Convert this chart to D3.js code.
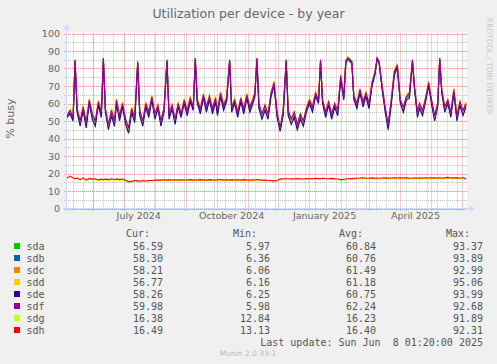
<!DOCTYPE html>
<html>
<head>
<meta charset="utf-8">
<script src="https://cdn.jsdelivr.net/npm/d3@7"></script>
<style>
  body { margin: 0; background: #f0f0f0; }
  svg text { font-family: "DejaVu Sans", sans-serif; fill: #666; }
  svg text.mono { font-family: "DejaVu Sans Mono", monospace; font-size: 10px; fill: #555; }
</style>
</head>
<body>
<div id="chart"></div>
<script>
// days since 2024-05-05 (one sample every ~3 days)
var days = [1,4,7,9,11,14,17,20,23,26,
  29,32,35,37,39,42,45,48,50,53,
  56,59,62,65,68,71,73,76,79,82,
  85,88,91,94,97,100,102,105,108,111,
  114,117,120,123,126,128,130,133,136,139,
  142,145,148,150,153,156,159,162,164,167,
  170,173,176,179,182,185,187,189,191,194,
  197,200,203,206,209,212,215,218,220,223,
  226,229,232,235,238,241,244,247,250,252,
  254,257,260,263,266,269,272,275,277,279,
  281,283,285,288,291,294,297,300,303,306,
  308,310,313,316,319,322,325,328,331,334,
  337,340,343,345,348,350,353,356,359,362,
  365,368,370,372,375,378,381,384,387,390,
  393,396];

var sda = [52,55,51,84,56,48,57,47,61,53,
  48,60,54,85,56,46,55,48,61,52,
  59,49,44,56,50,83,55,48,59,53,
  63,52,58,48,56,84,53,58,49,59,
  53,61,55,62,57,85,61,55,64,56,
  63,56,62,54,65,57,62,84,56,61,
  53,62,55,64,56,61,65,85,58,52,
  57,52,65,71,53,45,55,84,54,49,
  53,46,52,48,56,61,56,65,61,84,
  61,53,60,52,59,54,75,63,83,85,
  84,83,63,58,67,59,65,58,71,77,
  85,83,69,56,46,60,77,80,61,56,
  63,64,84,69,53,58,54,62,71,60,
  51,59,85,67,56,61,53,67,51,60,
  54,59];
var sdb = [53,55,51,84,56,49,57,48,61,53,
  49,60,54,85,56,47,55,49,61,52,
  59,50,45,56,51,83,55,49,59,54,
  63,53,58,49,56,84,53,58,50,59,
  53,61,55,62,57,85,61,56,64,57,
  63,56,62,55,65,58,62,84,57,61,
  54,62,56,64,57,61,65,85,59,53,
  58,53,65,71,54,45,55,84,55,50,
  54,47,53,49,56,61,57,65,61,84,
  61,54,60,53,59,55,75,63,83,86,
  84,83,63,59,67,60,65,59,71,77,
  85,83,69,57,47,61,77,81,61,57,
  63,65,84,69,54,59,55,62,71,61,
  52,59,85,67,57,61,54,67,52,60,
  55,59];
var sdc = [54,56,52,85,57,50,59,49,62,55,
  50,61,56,86,57,48,57,50,62,54,
  60,51,46,58,52,84,56,50,61,55,
  64,54,59,50,58,85,54,60,51,60,
  55,62,56,63,58,86,62,57,65,58,
  64,57,64,56,66,59,64,85,58,62,
  55,63,57,65,58,63,66,86,60,54,
  59,54,66,72,55,46,57,85,56,51,
  55,48,54,50,57,62,58,66,62,85,
  62,55,61,54,60,56,76,64,84,86,
  85,84,64,60,68,61,66,60,72,78,
  86,84,70,58,48,62,78,82,62,58,
  64,66,85,70,55,60,56,63,72,62,
  53,60,86,68,58,62,55,68,53,61,
  56,60];
var sdd = [54,57,53,85,58,49,59,48,63,55,
  49,62,56,86,58,47,57,49,63,54,
  61,50,45,58,51,84,57,49,61,56,
  65,53,60,49,58,85,55,60,50,61,
  55,63,57,64,59,86,63,58,66,59,
  65,58,64,57,67,60,64,85,59,63,
  56,64,58,66,59,63,67,86,61,53,
  60,53,67,73,54,45,57,85,57,50,
  56,47,55,49,58,63,59,67,63,85,
  63,54,62,53,61,55,77,65,85,87,
  86,84,65,61,69,62,67,61,73,79,
  86,84,71,57,47,63,79,83,63,57,
  65,67,85,71,54,61,55,64,73,61,
  52,61,86,69,57,63,54,69,52,62,
  55,61];
var sde = [52,54,50,84,55,47,56,46,60,51,
  47,59,52,85,55,45,53,47,60,50,
  58,48,43,55,49,83,53,47,58,52,
  62,51,57,47,55,84,51,57,48,58,
  52,60,53,61,56,85,60,54,63,55,
  62,54,61,53,64,56,61,84,55,60,
  52,61,54,63,55,60,64,85,57,51,
  56,51,64,70,52,44,53,84,53,48,
  52,45,51,47,55,60,55,64,60,84,
  60,52,59,51,58,53,74,62,83,86,
  85,83,62,57,66,58,64,57,70,77,
  86,83,68,55,45,59,76,81,60,55,
  62,63,84,68,52,57,53,61,70,59,
  50,58,85,66,55,60,52,66,50,59,
  53,58];
var sdf = [53,56,52,85,57,50,58,49,62,54,
  50,61,55,86,57,48,56,50,62,53,
  60,51,46,57,52,84,56,50,60,55,
  64,54,59,50,57,85,54,59,51,60,
  54,62,56,63,58,86,62,57,65,58,
  64,57,63,56,66,59,63,85,58,62,
  55,63,57,65,58,62,66,86,60,54,
  59,54,66,72,55,46,56,85,56,51,
  55,48,54,50,57,62,58,66,62,85,
  62,55,61,54,60,56,76,64,84,86,
  85,84,64,60,68,61,66,60,72,78,
  86,84,70,58,48,62,78,82,62,58,
  64,66,85,70,55,60,56,63,72,62,
  53,60,86,68,58,62,55,68,53,61,
  56,60];
var sdg = [17.2,18.2,17.2,16.7,17.2,16.2,17.2,15.9,16.9,16.5,
  16.6,15.9,16.4,16.1,16.4,16.1,16.6,16.2,16.5,16.1,
  16.4,15.8,14.9,15.2,15.7,15.5,15.3,15.6,15.4,15.7,
  15.7,15.9,16.0,15.9,16.1,15.9,16.2,16.0,16.1,15.9,
  16.1,16.0,16.0,16.2,15.9,16.1,16.0,16.2,16.0,15.9,
  16.2,16.0,15.9,16.1,16.3,15.9,16.1,16.0,16.2,16.0,
  16.1,15.9,16.2,16.0,15.9,16.1,16.0,16.2,16.1,15.9,
  16.0,15.8,15.7,15.5,15.7,16.5,16.7,16.7,16.7,16.6,
  16.7,16.8,16.7,16.6,16.8,16.7,16.7,16.9,16.8,16.7,
  17.0,16.8,16.7,16.9,16.7,16.6,16.2,16.3,16.7,16.7,
  16.8,16.7,16.9,17.0,17.1,17.3,17.1,17.0,17.2,17.0,
  17.1,17.0,17.1,17.2,17.0,17.1,17.2,17.1,17.2,17.1,
  17.2,17.0,17.1,17.3,17.0,17.2,17.1,17.3,17.1,17.2,
  17.2,17.1,17.3,17.1,17.2,17.5,17.1,17.2,17.3,17.0,
  17.4,16.5];
var sdh = [17.5,18.5,17.5,17,17.5,16.5,17.5,16.2,17.2,16.8,
  17,16.3,16.8,16.5,16.8,16.5,17,16.6,16.9,16.5,
  16.8,16.2,15.2,15.5,16,15.8,15.6,16,15.7,16,
  16,16.2,16.3,16.2,16.4,16.2,16.5,16.3,16.4,16.2,
  16.4,16.3,16.3,16.5,16.2,16.4,16.3,16.5,16.3,16.2,
  16.5,16.3,16.2,16.4,16.6,16.2,16.4,16.3,16.5,16.3,
  16.4,16.2,16.5,16.3,16.2,16.4,16.3,16.5,16.4,16.2,
  16.3,16.1,16,15.8,16,16.8,17,17,17,16.9,
  17,17.1,17,16.9,17.1,17,17,17.2,17.1,17,
  17.3,17.1,17,17.2,17,16.9,16.5,16.6,17,17,
  17.1,17,17.2,17.3,17.4,17.6,17.4,17.3,17.5,17.3,
  17.4,17.3,17.4,17.5,17.3,17.4,17.5,17.4,17.5,17.4,
  17.5,17.3,17.4,17.6,17.3,17.5,17.4,17.6,17.4,17.5,
  17.5,17.4,17.6,17.4,17.5,17.8,17.4,17.5,17.6,17.3,
  17.7,16.8];

var names = ['sda','sdb','sdc','sdd','sde','sdf','sdg','sdh'];
var colors = ['#00cc00','#0066b3','#ff8000','#ffcc00','#330099','#990099','#ccff00','#ff0000'];
var values = [sda, sdb, sdc, sdd, sde, sdf, sdg, sdh];
var curVals = ['56.59','58.30','58.21','56.77','58.26','59.98','16.38','16.49'];
var minVals = ['5.97','6.36','6.06','6.16','6.25','5.98','12.84','13.13'];
var avgVals = ['60.84','60.76','61.49','61.18','60.75','62.24','16.23','16.40'];
var maxVals = ['93.37','93.89','92.99','95.06','93.99','92.68','91.89','92.31'];
var yTicks = [0,10,20,30,40,50,60,70,80,90,100];
var xLabels = ['July 2024','October 2024','January 2025','April 2025'];

var W = 497, H = 364;
var xLeft = 66, xRight = 467, yTop = 33.5, yBottom = 208.5;
var start = new Date(Date.UTC(2024, 4, 5)),
    end = new Date(Date.UTC(2025, 5, 6));

var x = d3.scaleUtc().domain([start, end]).range([xLeft, xRight]);
var y = d3.scaleLinear().domain([0, 100]).range([yBottom, yTop]);

var svg = d3.select('#chart').append('svg')
    .attr('width', W).attr('height', H);

svg.append('rect').attr('width', W).attr('height', H).attr('fill', '#f0f0f0');
svg.append('rect')
    .attr('x', xLeft).attr('y', yTop - 1)
    .attr('width', xRight - xLeft).attr('height', yBottom - yTop + 1)
    .attr('fill', '#fff');

function px(v) { return Math.round(v) + 0.5; }

var grid = svg.append('g');
var minorColor = 'rgba(170,170,170,0.7)',
    majorColor = 'rgba(235,110,110,0.7)';

// minor horizontal lines every 5
d3.range(5, 100, 10).forEach(function(v) {
  grid.append('line')
      .attr('x1', xLeft - 2).attr('x2', xRight)
      .attr('y1', px(y(v))).attr('y2', px(y(v)))
      .attr('stroke', minorColor)
      .attr('stroke-dasharray', '1,1');
});

// minor vertical lines, every ten days
d3.utcDay.range(new Date(Date.UTC(2024, 4, 12)), end, 10).forEach(function(d) {
  grid.append('line')
      .attr('x1', px(x(d))).attr('x2', px(x(d)))
      .attr('y1', yTop).attr('y2', yBottom + 2)
      .attr('stroke', minorColor)
      .attr('stroke-dasharray', '1,1');
});

// major horizontal lines every 10
yTicks.forEach(function(v) {
  grid.append('line')
      .attr('x1', xLeft - 2).attr('x2', xRight)
      .attr('y1', px(y(v))).attr('y2', px(y(v)))
      .attr('stroke', majorColor)
      .attr('stroke-dasharray', '1,1');
});

// major vertical lines (months)
d3.utcMonth.range(start, end).forEach(function(d) {
  grid.append('line')
      .attr('x1', px(x(d))).attr('x2', px(x(d)))
      .attr('y1', yTop).attr('y2', yBottom + 2)
      .attr('stroke', majorColor)
      .attr('stroke-dasharray', '1,1');
});

// y tick labels
svg.append('g').selectAll('text')
    .data(yTicks)
  .enter().append('text')
    .attr('x', 60)
    .attr('y', function(d) { return y(d) + 3.5; })
    .attr('text-anchor', 'end')
    .style('font-size', '9.5px')
    .text(function(d) { return d; });

// x labels, centred mid-month like rrdtool
svg.append('g').selectAll('text')
    .data(xLabels)
  .enter().append('text')
    .attr('x', function(d) {
      var t = d3.utcParse('%B %Y')(d);
      return x(d3.utcDay.offset(t, 15));
    })
    .attr('y', 219)
    .attr('text-anchor', 'middle')
    .style('font-size', '9.5px')
    .text(function(d) { return d; });

// series
var line = d3.line()
    .x(function(d, i) { return x(d3.utcDay.offset(start, days[i])); })
    .y(function(d) { return y(d); });

values.forEach(function(vals, k) {
  svg.append('path')
      .attr('d', line(vals))
      .attr('fill', 'none')
      .attr('stroke', colors[k])
      .attr('stroke-width', 1.1);
});

// axes
var axisColor = '#cfd6f8';
svg.append('line')
    .attr('x1', xLeft - 3).attr('x2', xRight + 4)
    .attr('y1', yBottom).attr('y2', yBottom)
    .attr('stroke', axisColor);
svg.append('line')
    .attr('x1', xLeft + 0.5).attr('x2', xLeft + 0.5)
    .attr('y1', yBottom + 3).attr('y2', yTop - 5)
    .attr('stroke', axisColor);
svg.append('path')
    .attr('d', 'M' + (xLeft - 2.5) + ',' + (yTop - 4) + 'L' + (xLeft + 3.5) + ',' + (yTop - 4) + 'L' + (xLeft + 0.5) + ',' + (yTop - 9) + 'Z')
    .attr('fill', axisColor);
svg.append('path')
    .attr('d', 'M' + (xRight + 3) + ',' + (yBottom - 3) + 'L' + (xRight + 3) + ',' + (yBottom + 3) + 'L' + (xRight + 8) + ',' + yBottom + 'Z')
    .attr('fill', axisColor);

// title and side texts
svg.append('text')
    .attr('x', 248.5).attr('y', 18)
    .attr('text-anchor', 'middle')
    .style('font-size', '12.5px')
    .text('Utilization per device - by year');

svg.append('text')
    .attr('transform', 'translate(14,118.5) rotate(-90)')
    .attr('text-anchor', 'middle')
    .style('font-size', '11px')
    .text('% busy');

svg.append('text')
    .attr('transform', 'translate(487,18) rotate(90)')
    .style('font-size', '7.5px')
    .style('fill', '#c8c8c8')
    .text('RRDTOOL / TOBI OETIKER');

// legend
var legend = svg.append('g');
var cols = [163, 270, 376, 483];
var heads = ['Cur:', 'Min:', 'Avg:', 'Max:'];
heads.forEach(function(h, j) {
  legend.append('text')
      .attr('class', 'mono')
      .attr('x', cols[j] - 13).attr('y', 236.5)
      .attr('text-anchor', 'end')
      .text(h);
});

names.forEach(function(n, i) {
  var cy = 246 + i * 12;
  legend.append('rect')
      .attr('x', 14).attr('y', cy - 3)
      .attr('width', 6).attr('height', 6)
      .attr('fill', colors[i]);
  legend.append('text')
      .attr('class', 'mono')
      .attr('x', 26.5).attr('y', cy + 3.5)
      .text(n);
  [curVals, minVals, avgVals, maxVals].forEach(function(col, j) {
    legend.append('text')
        .attr('class', 'mono')
        .attr('x', cols[j]).attr('y', cy + 3.5)
        .attr('text-anchor', 'end')
        .text(col[i]);
  });
});

legend.append('text')
    .attr('class', 'mono')
    .attr('x', 483).attr('y', 345.5)
    .attr('text-anchor', 'end')
    .style('white-space', 'pre')
    .text('Last update: Sun Jun  8 01:20:00 2025');

svg.append('text')
    .attr('x', 248).attr('y', 356)
    .attr('text-anchor', 'middle')
    .style('font-size', '7.5px')
    .style('fill', '#bbb')
    .text('Munin 2.0.33-1');
</script>
</body>
</html>
